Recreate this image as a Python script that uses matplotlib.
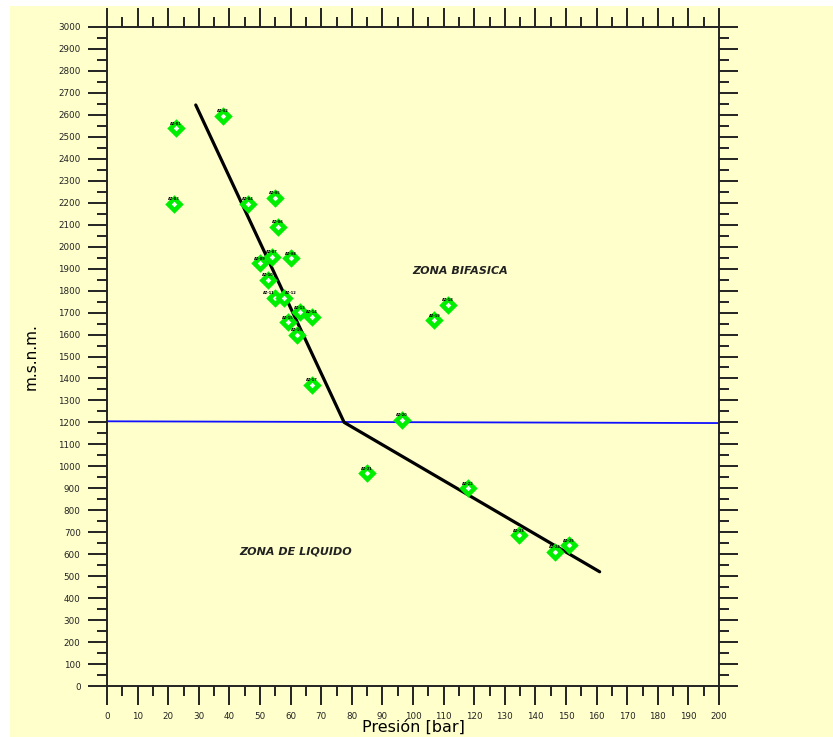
import numpy as np
import matplotlib
matplotlib.use('Agg')
import matplotlib.pyplot as plt
from matplotlib.patches import Rectangle
from matplotlib.ticker import MultipleLocator

# data
pres = [22.5, 38, 22, 46, 55, 56, 54, 60, 50, 52.5, 55, 58, 63, 67, 59, 62, 67,
        111.5, 107, 96.5, 85, 118, 134.5, 146.5, 151]
cota = [2540, 2595, 2195, 2195, 2222, 2090, 1955, 1948, 1925, 1850, 1768, 1768,
        1702, 1682, 1657, 1600, 1372, 1736, 1666, 1213, 968, 900, 686, 612, 640]
pozos = ['AZ-%02d' % (i + 1) for i in range(len(pres))]

trend_x = [29, 77.5, 161]
trend_y = [2645, 1200, 520]

limite_x = [0, 200]
limite_y = [1205, 1197]

bg = '#FFFFCC'

fig = plt.figure(figsize=(8.33, 7.37), dpi=100)
fig.patch.set_facecolor('white')
fig.patches.append(Rectangle((10/833, 0), 1, 1 - 6/737, transform=fig.transFigure,
                             facecolor=bg, edgecolor='none', zorder=-10))

ax = fig.add_axes([107/833, 51/737, 612/833, 659/737])
ax.set_facecolor(bg)

ax.plot(limite_x, limite_y, color='#1010ff', lw=1.3, zorder=2)
ax.plot(trend_x, trend_y, color='black', lw=2.3, solid_capstyle='round', zorder=3)
ax.plot(pres, cota, 'D', ms=6.5, mfc='white', mec='#00ee00', mew=3.3, zorder=4)

# labels of the two wells sitting side by side are pushed apart a little
nudge = {10: (-0.5, 'right'), 11: (0.5, 'left')}
for i, (x, y, t) in enumerate(zip(pres, cota, pozos)):
    dx, ha = nudge.get(i, (0, 'center'))
    ax.annotate(t, (x, y), textcoords='offset points', xytext=(dx, 2.5),
                ha=ha, fontsize=2.6, fontweight='bold', zorder=5)

ax.text(115.5, 1890, 'ZONA BIFASICA', fontsize=8, fontweight='bold',
        fontstyle='italic', ha='center', va='center', color='#222222')
ax.text(61.5, 612, 'ZONA DE LIQUIDO', fontsize=8, fontweight='bold',
        fontstyle='italic', ha='center', va='center', color='#222222')

ax.set_xlim(0, 200)
ax.set_ylim(0, 3000)
ax.xaxis.set_major_locator(MultipleLocator(10))
ax.xaxis.set_minor_locator(MultipleLocator(5))
ax.yaxis.set_major_locator(MultipleLocator(100))
ax.yaxis.set_minor_locator(MultipleLocator(50))
ax.tick_params(which='both', direction='out', top=True, right=True,
               labeltop=False, labelright=False, width=1.4, colors='#222222')
ax.tick_params(which='major', length=14, labelsize=6.3, pad=5)
ax.tick_params(which='minor', length=7)
for s in ax.spines.values():
    s.set_linewidth(1.4)
    s.set_color('#222222')

ax.set_xlabel('Presión [bar]', fontsize=11.5, labelpad=-1,
              family=['Liberation Sans Narrow', 'DejaVu Sans'])
ax.set_ylabel('m.s.n.m.', fontsize=11, labelpad=14)

plt.savefig('out.png', dpi=100, facecolor=fig.get_facecolor())
